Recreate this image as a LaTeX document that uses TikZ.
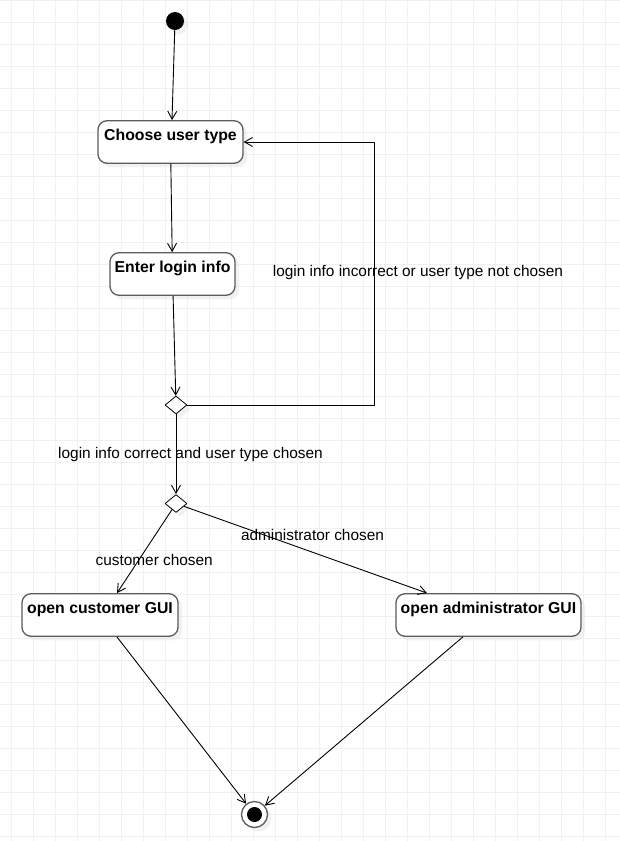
\documentclass[tikz,border=0pt]{standalone}
\usepackage{fontspec}
\setmainfont{Liberation Sans}
\usetikzlibrary{arrows.meta,shapes.geometric,shadows}
\definecolor{efefef}{rgb}{0.94,0.94,0.94}
\definecolor{e6e6e6}{rgb}{0.9,0.9,0.9}
\definecolor{qqqqqq}{rgb}{0.36,0.36,0.36}
\begin{document}
\begin{tikzpicture}[line cap=round,line join=round,>={Straight Barb[length=8pt,width=9pt]},x=1.0pt,y=-1.0pt,
  actstate/.style={draw=qqqqqq,line width=1.3pt,rounded corners=9pt,fill=white,inner sep=0pt,
    text height=19.5pt,text depth=23pt,font=\fontsize{15.8}{18}\selectfont\bfseries,
    drop shadow={shadow xshift=4pt,shadow yshift=-4pt,fill=e6e6e6}},
  choice/.style={diamond,draw=black,line width=0.8pt,fill=white,minimum width=22pt,minimum height=18pt,
    inner sep=0pt,drop shadow={shadow xshift=4pt,shadow yshift=-4pt,fill=e6e6e6}},
  lbl/.style={anchor=base,font=\fontsize{15.4}{18}\selectfont},
  flow/.style={->,line width=0.9pt}]
\useasboundingbox (0,0) rectangle (620,841);
\fill[white] (0,0) rectangle (620,841);
% grid
\foreach \x in {11,33,...,605}
\draw[color=efefef,line width=1pt] (\x,0) -- (\x,841);
\foreach \y in {0,22,...,836}
\draw[color=efefef,line width=1pt] (0,\y) -- (620,\y);

\node[circle,fill=black,minimum size=18pt,inner sep=0pt,drop shadow={shadow xshift=4pt,shadow yshift=-4pt,fill=e6e6e6}] (start) at (175,21) {};
\node[actstate,minimum width=145pt] (choose) at (170.5,142) {Choose user type};
\node[actstate,minimum width=125pt] (enter) at (172.5,274) {Enter login info};
\node[choice] (dec1) at (176,405) {};
\node[choice] (dec2) at (176,503.5) {};
\node[actstate,minimum width=156pt] (cust) at (100,615) {open customer GUI};
\node[actstate,minimum width=185pt] (admin) at (488.5,615) {open administrator GUI};
\node[circle,draw=qqqqqq,line width=1.3pt,fill=white,minimum size=26pt,inner sep=0pt,drop shadow={shadow xshift=4pt,shadow yshift=-4pt,fill=e6e6e6}] (final) at (254.5,814.5) {};
\fill[black] (final.center) circle (7.5pt);
\coordinate (loop) at (374,405);

\draw[flow] (start) -- ([xshift=1.5pt]choose.north);
\draw[flow] (choose) -- (enter);
\draw[flow] (enter) -- (dec1);
\draw[flow] (dec1.east) -- (loop) |- (choose.east);
\draw[flow] (dec1) -- (dec2);
\draw[flow] (dec2) -- ([xshift=17pt]cust.north);
\draw[flow] (dec2) -- ([xshift=-61.5pt]admin.north);
\draw[flow] (cust) -- (final);
\draw[flow] (admin) -- (final);

\node[lbl] (wrong) at (418,276) {login info incorrect or user type not chosen};
\node[lbl] (right) at (190.5,458.3) {login info correct and user type chosen};
\node[lbl] (custlbl) at (154.2,565.7) {customer chosen};
\node[lbl] (adminlbl) at (312.5,540) {administrator chosen};
\end{tikzpicture}
\end{document}
